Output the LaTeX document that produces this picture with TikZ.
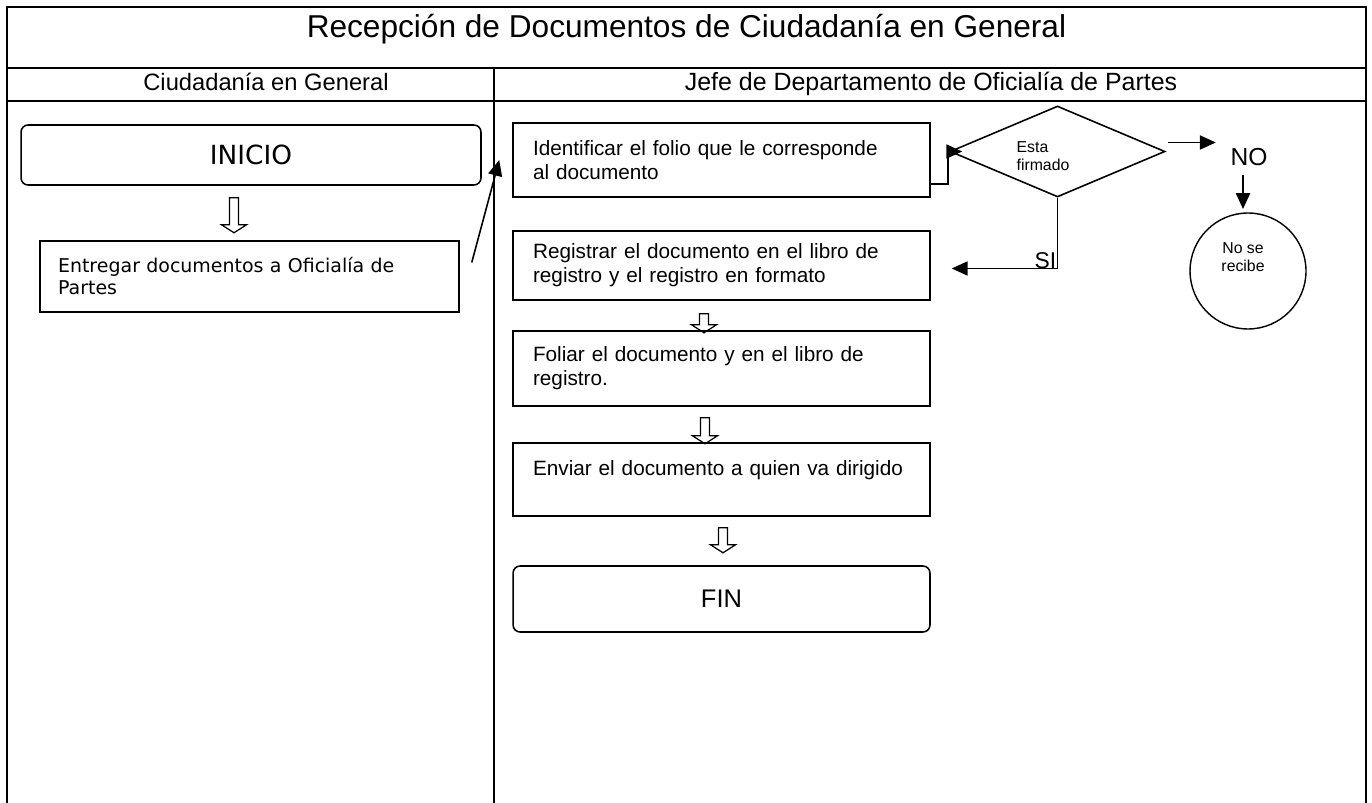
\documentclass[tikz,border=0pt]{standalone}
\usepackage{fontspec}
\setmainfont{Liberation Sans}
\newfontfamily\tahoma{DejaVu Sans}
\usetikzlibrary{positioning,calc,shapes.geometric,arrows.meta}

\tikzset{
  tabla/.style={line width=0.6pt},
  cabecera/.style={anchor=base, inner sep=0},
  caja/.style={draw, line width=0.9pt, rectangle, minimum width=8.34cm, inner xsep=0.4cm,
    text width=7.54cm, align=left, font=\fontsize{11.8}{13.5}\selectfont},
  terminal/.style={draw, line width=0.9pt, rounded corners=4pt},
  flecha/.style={line width=0.9pt, -{Triangle[length=9pt,width=8pt]}},
  hueca/.style={line width=0.7pt}
}
\newcommand{\flechahueca}[2]{%
  \draw[hueca] ($#1+(-4.5,0)$) -- ++(0,{#2-8}) -- ++(-8,0) -- ++(12.5,8) -- ++(12.5,-8) -- ++(-8,0) -- ++(0,{8-#2}) -- cycle;}

\begin{document}
\begin{tikzpicture}[x=0.02cm,y=-0.02cm]
        \useasboundingbox (0,0) rectangle (1372,803);
        % tabla
        \draw[tabla] (7,803) -- (7,7) -- (1366,7) -- (1366,803);
        \draw[tabla] (7,68) -- (1366,68);
        \draw[tabla] (7,101) -- (1366,101);
        \draw[tabla] (494,68) -- (494,803);
        \node[cabecera, font=\fontsize{18}{20}\selectfont] (titulo) at (686.5,38) {Recepción de Documentos de Ciudadanía en General};
        \node[cabecera, font=\fontsize{13.5}{15}\selectfont] (ciudadania) at (266,91) {Ciudadanía en General};
        \node[cabecera, font=\fontsize{14.2}{15}\selectfont] (jefe) at (931,91) {Jefe de Departamento de Oficialía de Partes};

        % columna ciudadania
        \node[terminal, minimum width=9.2cm, minimum height=1.2cm, font=\tahoma\fontsize{15}{16}\selectfont] (inicio) at (251,155) {INICIO};
        \node[caja, minimum height=1.42cm, text width=7.66cm, inner xsep=0.36cm, font=\tahoma\fontsize{10.8}{12.5}\selectfont] (entregar) at (249.5,276.5) {Entregar documentos a Oficialía de\\Partes};

        % columna jefe
        \node[caja, minimum height=1.48cm] (identificar) at (721.5,160) {Identificar el folio que le corresponde\\al documento};
        \node[caja, minimum height=1.38cm] (registrar) at (721.5,265.5) {Registrar el documento en el libro de\\registro y el registro en formato};
        \node[caja, minimum height=1.5cm] (foliar) at (721.5,368.5) {Foliar el documento y en el libro de\\registro.};
        \node[caja, minimum height=1.46cm] (enviar) at (721.5,479.5) {Enviar el documento a quien va dirigido\\\mbox{}};
        \node[terminal, minimum width=8.34cm, minimum height=1.32cm, font=\fontsize{14.5}{16}\selectfont] (fin) at (721.5,599) {FIN};

        \node[draw, diamond, line width=0.9pt, minimum width=4.3cm, minimum height=1.82cm, inner sep=0,
          label={[font=\fontsize{9}{10.5}\selectfont, align=left, xshift=-0.29cm, yshift=-0.09cm]center:Esta\\firmado}] (firmado) at (1057.5,151.5) {};
        \node[inner sep=0, font=\fontsize{14}{16}\selectfont] (no) at (1249,157) {NO};
        \node[draw, circle, line width=0.8pt, minimum size=2.32cm,
          label={[font=\fontsize{9}{10.5}\selectfont, align=center, xshift=-0.1cm, yshift=0.28cm]center:No se\\recibe}] (norecibe) at (1248,271) {};
        \node[anchor=south east, inner sep=0, font=\fontsize{13}{15}\selectfont] (si) at ($(firmado.south)+(-1,71)$) {SI};

        % conectores
        \draw[flecha] ($(entregar.east)+(12,-14)$) -- ($(identificar.west)+(-13,0)$);
        \draw[flecha] ($(identificar.east)+(0,24)$) -- ++(17,0) |- ($(firmado.west)+(13,0)$);
        \draw[flecha] ($(firmado.east)+(2,-9)$) -- ++(48,0);
        \draw[flecha] ($(no.south)+(-6,9)$) -- ++(0,34);
        \draw[flecha] (firmado.south) |- ($(registrar.east)+(21,3)$);

        \flechahueca{(inicio.south)+(-17,12)}{35}
        \flechahueca{(registrar.south)+(-17.5,13)}{19}
        \flechahueca{(foliar.south)+(-16.5,11)}{26}
        \flechahueca{(enviar.south)+(1.5,11)}{25}
\end{tikzpicture}
\end{document}
